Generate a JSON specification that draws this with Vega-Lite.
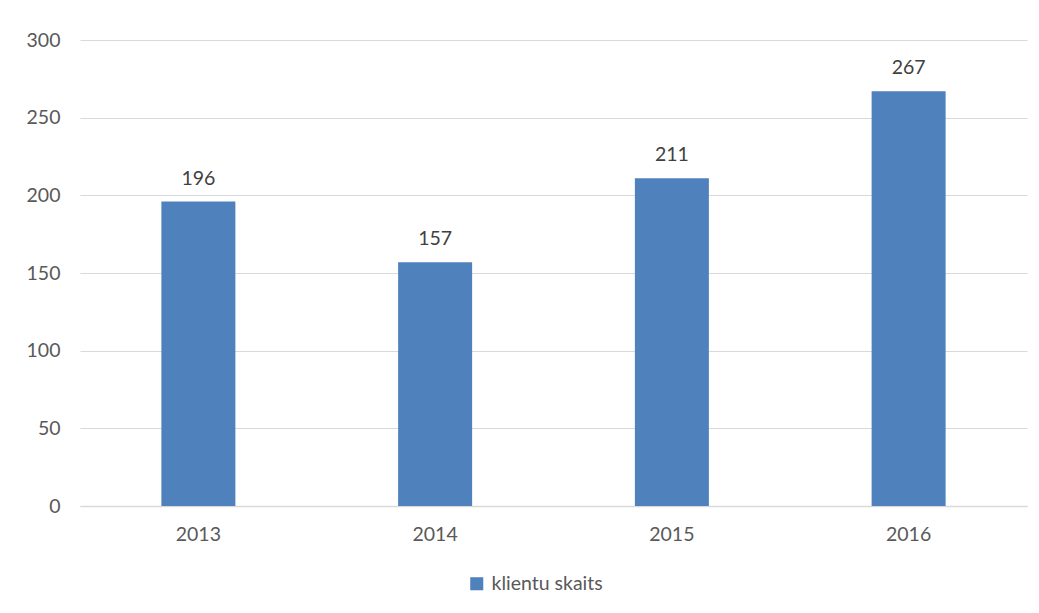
{
  "$schema": "https://vega.github.io/schema/vega-lite/v6.json",
  "autosize": "none",
  "width": 947,
  "height": 466,
  "padding": {"left": 80, "top": 40, "right": 12, "bottom": 107},
  "background": "white",
  "config": {
    "font": "Lato",
    "view": {"stroke": null},
    "axis": {"labelFont": "Lato", "labelFontSize": 19.5, "labelColor": "#595959", "ticks": false, "title": null}
  },
  "data": {
    "values": [
      {"year": "2013", "value": 196, "series": "klientu skaits"},
      {"year": "2014", "value": 157, "series": "klientu skaits"},
      {"year": "2015", "value": 211, "series": "klientu skaits"},
      {"year": "2016", "value": 267, "series": "klientu skaits"}
    ]
  },
  "encoding": {
    "x": {"field": "year", "type": "nominal", "sort": null,
      "axis": {"labelAngle": 0, "labelPadding": 19, "domainColor": "#d9d9d9", "domainWidth": 1.5, "grid": false}},
    "y": {"field": "value", "type": "quantitative",
      "scale": {"domain": [0, 300]},
      "axis": {"values": [0, 50, 100, 150, 200, 250, 300], "domain": false, "labelPadding": 20, "gridColor": "#d9d9d9", "gridWidth": 1.2}}
  },
  "layer": [
    {
      "mark": {"type": "bar", "size": 74},
      "encoding": {
        "color": {"field": "series", "type": "nominal",
          "scale": {"range": ["#4f81bd"]},
          "legend": {"title": null, "orient": "none", "legendX": 387, "legendY": 534, "symbolType": "square", "symbolSize": 170, "symbolStrokeWidth": 0, "labelFontSize": 19.5, "labelColor": "#595959", "labelFont": "Lato", "labelOffset": 5}}
      }
    },
    {
      "mark": {"type": "text", "baseline": "bottom", "dy": -13, "fontSize": 19.5, "color": "#404040", "font": "Lato"},
      "encoding": {"text": {"field": "value", "type": "quantitative"}}
    }
  ]
}
